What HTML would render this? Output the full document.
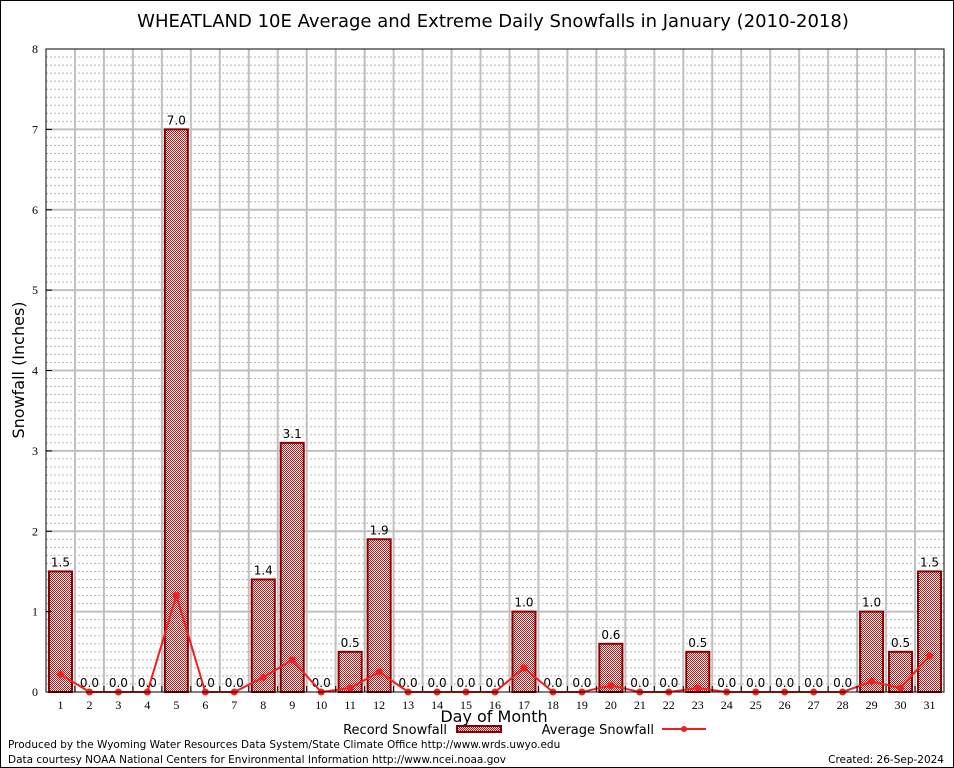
<!DOCTYPE html>
<html><head><meta charset="utf-8"><style>
body{margin:0;background:#fff}
svg{display:block;font-family:"DejaVu Sans","Liberation Sans",sans-serif}
</style></head><body>
<svg id="c" width="954" height="768" xmlns="http://www.w3.org/2000/svg">
<defs>
<pattern id="chk" width="2" height="2" patternUnits="userSpaceOnUse">
<rect width="2" height="2" fill="#fff"/><rect width="1" height="1" fill="#b01818"/><rect x="1" y="1" width="1" height="1" fill="#b01818"/>
</pattern>
</defs>
<rect x="0.5" y="0.5" width="953" height="767" fill="#fff" stroke="#000"/>
<text x="493" y="27" font-size="18" text-anchor="middle">WHEATLAND 10E Average and Extreme Daily Snowfalls in January (2010-2018)</text>
<g id="grid"></g>
<g id="bars"></g>
<g id="avg"></g>
<g id="axes"></g>
<text x="24" y="370" font-size="16" text-anchor="middle" transform="rotate(-90 24 370)">Snowfall (Inches)</text>
<text x="494" y="722" font-size="16" text-anchor="middle">Day of Month</text>
<g>
<text x="447" y="734" font-size="13" text-anchor="end">Record Snowfall</text>
<rect x="457" y="726" width="44" height="6" fill="url(#chk)" stroke="#8b0000" stroke-width="2"/>
<text x="654" y="734" font-size="13" text-anchor="end">Average Snowfall</text>
<line x1="662" y1="729" x2="706" y2="729" stroke="#f02020" stroke-width="2"/>
<circle cx="684" cy="729" r="3" fill="#f02020"/>
</g>
<text x="8" y="748" font-size="10.5">Produced by the Wyoming Water Resources Data System/State Climate Office http://www.wrds.uwyo.edu</text>
<text x="8" y="763" font-size="10.5">Data courtesy NOAA National Centers for Environmental Information http://www.ncei.noaa.gov</text>
<text x="944" y="763" font-size="10.5" text-anchor="end">Created: 26-Sep-2024</text>
</svg>
<script>
const days=[1,2,3,4,5,6,7,8,9,10,11,12,13,14,15,16,17,18,19,20,21,22,23,24,25,26,27,28,29,30,31];
const recordValues=[1.5,0,0,0,7.0,0,0,1.4,3.1,0,0.5,1.9,0,0,0,0,1.0,0,0,0.6,0,0,0.5,0,0,0,0,0,1.0,0.5,1.5];
const averageValues=[0.22,0,0,0,1.2,0,0,0.18,0.4,0,0.05,0.25,0,0,0,0,0.3,0,0,0.08,0,0,0.05,0,0,0,0,0,0.13,0.05,0.45];
const yTicks=[0,1,2,3,4,5,6,7,8];
const L=46,R=944,T=49,B=692,yMax=8;
const slot=(R-L)/days.length;
const xs=i=>L+slot*(i+0.5);
const ys=v=>B-(v/yMax)*(B-T);
const NS="http://www.w3.org/2000/svg";
function mk(tag,attrs,parent){const e=document.createElementNS(NS,tag);for(const k in attrs)e.setAttribute(k,attrs[k]);parent.appendChild(e);return e;}
const grid=document.getElementById('grid'),bars=document.getElementById('bars'),avg=document.getElementById('avg'),axes=document.getElementById('axes');
for(let k=1;k<yMax*10;k++){if(k%10===0)continue;const y=ys(k/10);
const l=mk('line',{x1:L,x2:R,y1:y,y2:y,stroke:'#b8b8b8','stroke-width':1,'stroke-dasharray':'2,2'},grid);

}
for(let i=1;i<days.length;i++){const x=L+slot*i;
const l=mk('line',{x1:x,x2:x,y1:T,y2:B,stroke:'#c0c0c0','stroke-width':2},grid);

}
yTicks.forEach(t=>{const y=ys(t);
if(t>0&&t<yMax){const l=mk('line',{x1:L,x2:R,y1:y,y2:y,stroke:'#c0c0c0','stroke-width':2},grid);

}
const tx=mk('text',{x:38,y:y+4,'font-size':12,'text-anchor':'end','font-family':'Liberation Serif, serif'},axes);tx.textContent=t;


const tk=mk('line',{x1:L,x2:L+6,y1:y,y2:y,stroke:'#000'},axes);

});
days.forEach((d,i)=>{const v=recordValues[i],x=xs(i),bw=23;
if(v>0){const r=mk('rect',{x:x-bw/2,y:ys(v),width:bw,height:B-ys(v),fill:'url(#chk)',stroke:'#8b0000','stroke-width':2},bars);

}
const lb=mk('text',{x:x,y:ys(v)-5,'font-size':12,'text-anchor':'middle'},bars);lb.textContent=v.toFixed(1);


const tx=mk('text',{x:x,y:709,'font-size':12,'text-anchor':'middle','font-family':'Liberation Serif, serif'},axes);tx.textContent=d;


const tk=mk('line',{x1:L+slot*i,x2:L+slot*i,y1:B,y2:B-6,stroke:'#000'},axes);

});
const pl=mk('polyline',{points:averageValues.map((v,i)=>xs(i)+','+ys(v)).join(' '),fill:'none',stroke:'#f02020','stroke-width':2},avg);


averageValues.forEach((v,i)=>{const c=mk('circle',{cx:xs(i),cy:ys(v),r:3.5,fill:'#f02020'},avg);

});
const fr=mk('rect',{x:L,y:T,width:R-L,height:B-T,fill:'none',stroke:'#000','stroke-width':1},axes);


</script>
</body></html>
